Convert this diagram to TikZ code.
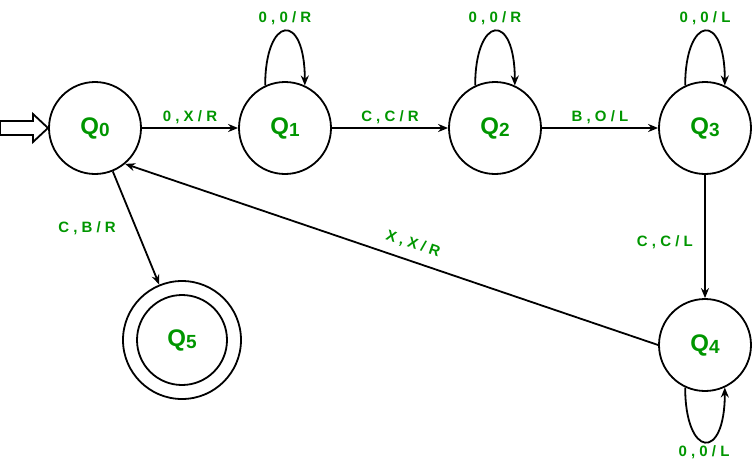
\documentclass[tikz,border=0pt]{standalone}
\usepackage{fontspec}
\setmainfont{Liberation Sans}
\usetikzlibrary{arrows.meta}
\definecolor{gg}{RGB}{0,150,0}
\begin{document}
\begin{tikzpicture}[x=1pt,y=-1pt,
 st/.style={circle,draw,line width=1.8pt,minimum size=92pt,inner sep=0pt,font=\bfseries\fontsize{24}{25}\selectfont,text=gg},
 lb/.style={font=\bfseries\fontsize{15}{17}\selectfont,text=gg},
 ed/.style={-{Stealth[length=10pt,width=8pt]},line width=1.8pt}]
\useasboundingbox (0,0) rectangle (752,467);
\node[st] (q0) at (95,128) {Q\raisebox{-2pt}{\fontsize{19}{19}\selectfont 0}};
\node[st] (q1) at (285,128) {Q\raisebox{-2pt}{\fontsize{19}{19}\selectfont 1}};
\node[st] (q2) at (495,128) {Q\raisebox{-2pt}{\fontsize{19}{19}\selectfont 2}};
\node[st] (q3) at (705,128) {Q\raisebox{-2pt}{\fontsize{19}{19}\selectfont 3}};
\node[st] (q4) at (705,345) {Q\raisebox{-2pt}{\fontsize{19}{19}\selectfont 4}};
\node[st,minimum size=118pt] (q5) at (182,340) {};
\node[st,minimum size=90pt] (q5i) at (182,340) {Q\raisebox{-2pt}{\fontsize{19}{19}\selectfont 5}};
\draw[line width=1.8pt,fill=white] (0,121) -- (33,121) -- (33,114) -- (48,128) -- (33,142) -- (33,135) -- (0,135) -- cycle;
\draw[ed] (q0) -- node[lb,above]{0 , X / R} (q1);
\draw[ed] (q1) -- node[lb,above]{C , C / R} (q2);
\draw[ed] (q2) -- node[lb,above]{B , O / L} (q3);
\draw[ed] (q3) -- node[lb,left=8pt,pos=0.55]{C , C / L} (q4);
\draw[ed] (q4.west) -- node[lb,sloped,above=6pt,pos=0.47]{X , X / R} (q0.-50);
\draw[ed] (q0) -- node[lb,left=16pt]{C , B / R} (q5);
\foreach \q/\l in {q1/{0 , 0 / R},q2/{0 , 0 / R},q3/{0 , 0 / L}}{
 \draw[ed] (\q.115) .. controls ([yshift=70pt]\q.115) and ([yshift=75pt]\q.65) .. (\q.65);
 \node[lb] at ([yshift=110pt]\q.center) {\l};}
\draw[ed] (q4.245) .. controls ([yshift=-70pt]q4.245) and ([yshift=-75pt]q4.295) .. (q4.295);
\node[lb] at (704,452) {0 , 0 / L};
\end{tikzpicture}
\end{document}
